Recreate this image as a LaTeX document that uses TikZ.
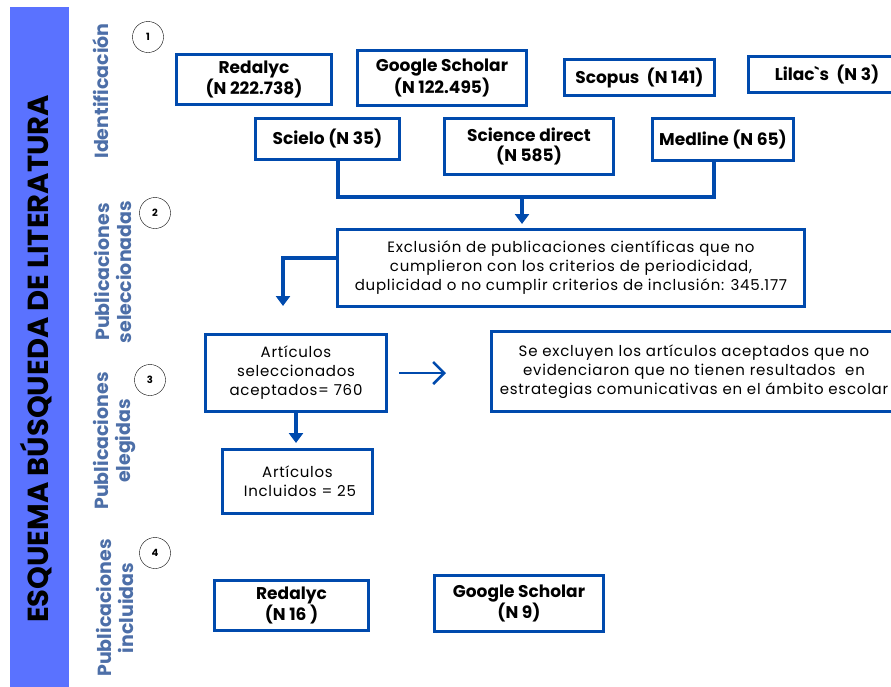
\documentclass[tikz,border=0pt]{standalone}
\usepackage{fontspec}
\setmainfont{Poppins}[Ligatures=TeXOff]
\usetikzlibrary{positioning,arrows.meta}
\definecolor{azul}{HTML}{004AAD}
\definecolor{franja}{HTML}{5A72FF}
\definecolor{etiqueta}{HTML}{4D6FA8}
\tikzset{
  base/.style={draw=azul, line width=3pt, align=center, inner sep=0pt},
  fuente/.style={base, font=\fontsize{17}{20}\selectfont\bfseries},
  texto/.style={base, font=\fontsize{15}{19}\selectfont\addfontfeatures{LetterSpace=5}},
  paso/.style={circle, draw, thin, minimum size=31pt, inner sep=0pt, font=\fontsize{10}{12}\selectfont\bfseries},
  fase/.style={rotate=90, text=etiqueta, align=center, font=\fontsize{19}{22}\selectfont\bfseries},
  linea/.style={draw=azul, line width=3.5pt},
  flecha/.style={linea, -{Triangle[width=14pt,length=10pt]}},
  abierta/.style={draw=azul, line width=2.5pt, -{Straight Barb[width=22pt,length=11pt]}}
}
\begin{document}
\begin{tikzpicture}[x=1pt, y=-1pt]
                \useasboundingbox (0,0) rectangle (891,686);
                \fill[franja] (10,7) rectangle (69,690);
                \node[rotate=90, font=\fontsize{29}{32}\selectfont\bfseries] (titulo) at (36,359) {ESQUEMA BÚSQUEDA DE LITERATURA};

                \node[fase] (ident) at (101,91) {Identificación};
                \node[fase] (selec) at (113,272) {Publicaciones\\seleccionadas};
                \node[fase] (eleg) at (115,441) {Publicaciones\\elegidas};
                \node[fase] (incl) at (115,608) {Publicaciones\\incluidas};

                \node[paso] (p1) at (148,37) {1};
                \node[paso] (p2) at (155,213) {2};
                \node[paso] (p3) at (150,380) {3};
                \node[paso] (p4) at (155,553) {4};

                \node[fuente, minimum width=155, minimum height=50] (redalyc) at (254,79.5) {Redalyc\\(N 222.738)};
                \node[fuente, minimum width=169, minimum height=55] (scholar) at (442,78) {Google Scholar\\(N 122.495)};
                \node[fuente, minimum width=150, minimum height=36] (scopus) at (639.5,77.5) {Scopus~~(N 141)};
                \node[fuente, minimum width=157, minimum height=36] (lilacs) at (827,74.5) {Lilac`s~~(N 3)};
                \node[fuente, minimum width=144, minimum height=41] (scielo) at (327.5,139) {Scielo (N 35)};
                \node[fuente, minimum width=169, minimum height=56] (direct) at (529,146.5) {Science direct\\(N 585)};
                \node[fuente, minimum width=141, minimum height=42] (medline) at (723,139.5) {Medline (N 65)};

                \coordinate (junta) at (522,197);
                \draw[linea] ([xshift=10.5]scielo.south) |- (junta) -| ([xshift=-9]medline.south);
                \draw[flecha, shorten >=4pt] (junta) -- (junta |- 0,228);

                \node[texto, minimum width=467, minimum height=77] (exclusion) at (571,268) {Exclusión de publicaciones científicas que no\\cumplieron con los criterios de periodicidad,\\duplicidad o no cumplir criterios de inclusión: 345.177};
                \coordinate (bajada) at (283,306);
                \draw[flecha] ([yshift=10]exclusion.west) -| (bajada);

                \node[texto, minimum width=181, minimum height=77] (seleccion) at (296,373) {Artículos\\seleccionados\\aceptados= 760};
                \node[texto, minimum width=405, minimum height=80] (excluidos) at (694,371.5) {Se excluyen los artículos aceptados que no\\evidenciaron que no tienen resultados~ en\\estrategias comunicativas en el ámbito escolar};
                \draw[abierta, shorten <=11pt, shorten >=44pt] (seleccion.east) -- (seleccion.east -| excluidos.west);

                \node[texto, minimum width=150, minimum height=64] (incluidos) at (297.5,481.5) {Artículos\\~Incluidos = 25};
                \draw[flecha, shorten >=5pt] (seleccion.south) -- (seleccion.south |- incluidos.north);

                \node[fuente, minimum width=154, minimum height=50] (redalyc2) at (291.5,605.5) {Redalyc\\(N 16 )};
                \node[fuente, minimum width=169, minimum height=56] (scholar2) at (519,603.5) {Google Scholar\\(N 9)};
\end{tikzpicture}
\end{document}
